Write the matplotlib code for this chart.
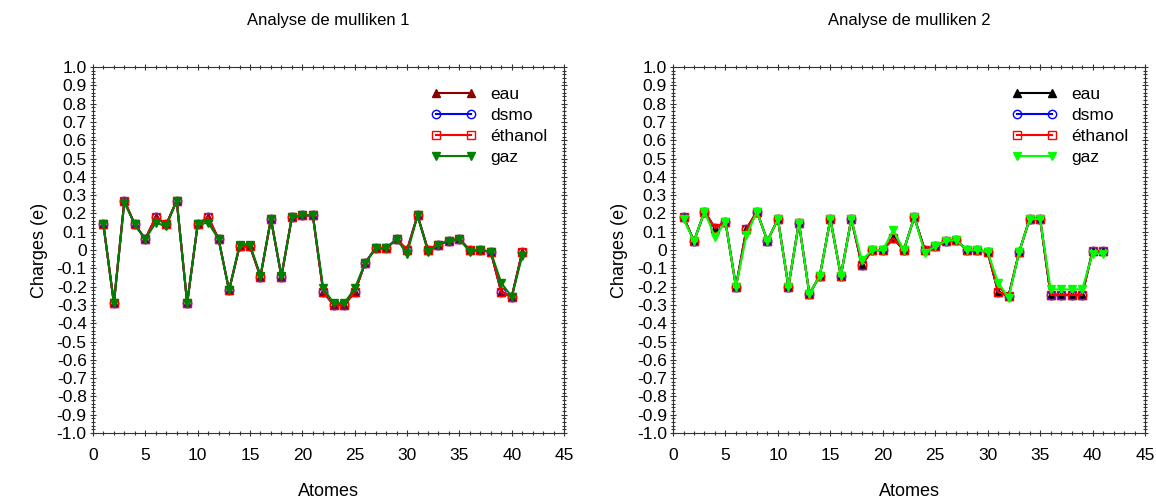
import matplotlib
matplotlib.use("Agg")
import matplotlib.pyplot as plt
import numpy as np
from matplotlib.ticker import MultipleLocator, FuncFormatter

plt.rcParams['font.family'] = ['Liberation Sans', 'DejaVu Sans']

atomes = list(range(1, 42))

# Analyse de mulliken 1
eau1 = [0.14, -0.29, 0.27, 0.14, 0.06, 0.18, 0.14, 0.27, -0.29, 0.14,
        0.18, 0.06, -0.22, 0.02, 0.02, -0.145, 0.17, -0.145, 0.18, 0.19,
        0.19, -0.23, -0.30, -0.30, -0.23, -0.07, 0.01, 0.01, 0.06, 0.00,
        0.19, 0.00, 0.03, 0.05, 0.06, 0.00, 0.00, -0.01, -0.23, -0.255, -0.01]
dsmo1 = list(eau1)
ethanol1 = list(eau1)
gaz1 = [0.14, -0.29, 0.26, 0.14, 0.06, 0.15, 0.13, 0.27, -0.29, 0.14,
        0.15, 0.06, -0.22, 0.03, 0.03, -0.14, 0.17, -0.14, 0.18, 0.19,
        0.19, -0.21, -0.29, -0.29, -0.21, -0.07, 0.01, 0.01, 0.06, -0.02,
        0.19, -0.01, 0.03, 0.05, 0.06, -0.01, 0.00, -0.01, -0.18, -0.255, -0.03]

# Analyse de mulliken 2
eau2 = [0.18, 0.05, 0.21, 0.12, 0.155, -0.20, 0.115, 0.21, 0.05, 0.17,
        -0.20, 0.15, -0.24, -0.14, 0.17, -0.14, 0.17, -0.08, 0.00, 0.00,
        0.065, 0.00, 0.18, 0.00, 0.02, 0.05, 0.055, 0.00, 0.00, -0.01,
        -0.23, -0.25, -0.01, 0.17, 0.17, -0.245, -0.245, -0.245, -0.245, -0.005, -0.005]
dsmo2 = list(eau2)
ethanol2 = list(eau2)
gaz2 = [0.17, 0.05, 0.21, 0.07, 0.155, -0.20, 0.08, 0.21, 0.05, 0.17,
        -0.20, 0.15, -0.24, -0.14, 0.17, -0.14, 0.17, -0.055, 0.00, 0.00,
        0.11, 0.00, 0.18, -0.015, 0.02, 0.05, 0.055, 0.00, 0.00, -0.01,
        -0.18, -0.26, -0.01, 0.17, 0.17, -0.215, -0.215, -0.215, -0.215, -0.02, -0.02]

titles = ["Analyse de mulliken 1", "Analyse de mulliken 2"]
labels = ["eau", "dsmo", "éthanol", "gaz"]

fig = plt.figure(figsize=(11.56, 5.01), dpi=100)
ax1 = fig.add_axes([0.0804, 0.1357, 0.4076, 0.7303])
ax2 = fig.add_axes([0.5822, 0.1357, 0.4083, 0.7303])


def yfmt(v, pos):
    if abs(v) < 1e-9:
        return "0"
    return "%.1f" % v


def draw(ax, series, colors, title):
    styles = [dict(marker="^", mfc=colors[0], mec=colors[0]),
              dict(marker="o", mfc="none", mec=colors[1]),
              dict(marker="s", mfc="none", mec=colors[2]),
              dict(marker="v", mfc=colors[3], mec=colors[3])]
    for vals, lab, col, st in zip(series, labels, colors, styles):
        ax.plot(atomes, vals, color=col, lw=1.5, ms=6, mew=1.0, label=lab, **st)
    ax.set_xlim(0, 45)
    ax.set_ylim(-1.0, 1.0)
    ax.xaxis.set_major_locator(MultipleLocator(5))
    ax.xaxis.set_minor_locator(MultipleLocator(1))
    ax.yaxis.set_major_locator(MultipleLocator(0.1))
    ax.yaxis.set_minor_locator(MultipleLocator(0.02))
    ax.yaxis.set_major_formatter(FuncFormatter(yfmt))
    ax.tick_params(which="both", direction="inout", top=True, right=True,
                   labelsize=12.5, width=0.8, color="#333333")
    ax.tick_params(which="major", length=5)
    ax.tick_params(which="minor", length=3)
    ax.tick_params(axis="x", pad=8)
    ax.tick_params(axis="y", pad=2)
    for s in ax.spines.values():
        s.set_color("#333333")
        s.set_linewidth(0.8)
    ax.set_title(title, fontsize=12, pad=30)
    ax.set_xlabel("Atomes", fontsize=13, labelpad=15)
    ax.set_ylabel("Charges (e)", fontsize=13, labelpad=6)
    ax.legend(loc="upper right", bbox_to_anchor=(0.99, 0.98), frameon=False,
              fontsize=12.5, handlelength=2.6, labelspacing=0.35, numpoints=2,
              handletextpad=0.8, borderaxespad=0.3)


draw(ax1, [eau1, dsmo1, ethanol1, gaz1],
     ["#8b0000", "#0000ff", "#ff0000", "#008000"], titles[0])
draw(ax2, [eau2, dsmo2, ethanol2, gaz2],
     ["#000000", "#0000ff", "#ff0000", "#00ff00"], titles[1])

fig.savefig("out.png", dpi=100)
